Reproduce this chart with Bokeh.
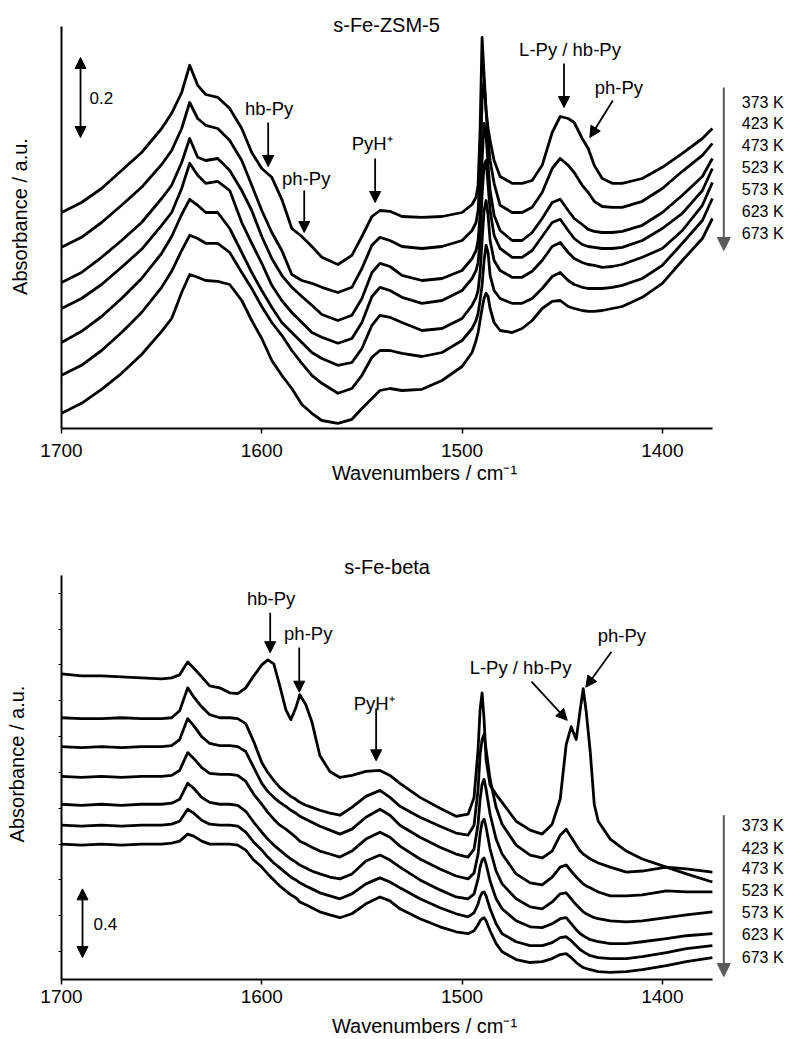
from bokeh.plotting import figure
from bokeh.layouts import column
from bokeh.models import Range1d, FixedTicker, Label, Arrow, NormalHead
from bokeh.embed import file_html
from bokeh.resources import INLINE

TEMPS = ["373 K", "423 K", "473 K", "523 K", "573 K", "623 K", "673 K"]
X_TICKS = [1700, 1600, 1500, 1400]

# ---------------- s-Fe-ZSM-5 (absorbance, offset spectra) ----------------
WN_ZSM5 = [1700, 1690, 1680, 1670, 1660, 1650, 1645, 1640, 1636, 1632, 1628, 1622, 1616, 1610,
           1605, 1600, 1595, 1590, 1585, 1580, 1575, 1570, 1562, 1555, 1550, 1545, 1541, 1536,
           1530, 1520, 1510, 1500, 1495, 1493, 1492, 1491, 1490, 1489, 1488, 1487, 1486, 1484,
           1481, 1475, 1470, 1465, 1460, 1455, 1451, 1447, 1444, 1440, 1437, 1434, 1430, 1425,
           1420, 1410, 1400, 1390, 1380, 1375]
ZSM5_373 = [0.540, 0.565, 0.600, 0.645, 0.690, 0.750, 0.788, 0.840, 0.908, 0.858, 0.835, 0.828, 0.800, 0.750,
            0.690, 0.650, 0.628, 0.573, 0.500, 0.480, 0.455, 0.428, 0.410, 0.433, 0.480, 0.530, 0.545, 0.543,
            0.530, 0.528, 0.530, 0.540, 0.560, 0.578, 0.608, 0.745, 0.978, 0.883, 0.795, 0.750, 0.720, 0.670,
            0.630, 0.613, 0.613, 0.620, 0.658, 0.740, 0.780, 0.775, 0.765, 0.725, 0.700, 0.658, 0.625, 0.613,
            0.613, 0.625, 0.653, 0.688, 0.725, 0.750]
ZSM5_423 = [0.453, 0.478, 0.515, 0.558, 0.603, 0.660, 0.695, 0.750, 0.815, 0.775, 0.758, 0.750, 0.720, 0.670,
            0.608, 0.545, 0.490, 0.445, 0.385, 0.370, 0.363, 0.353, 0.340, 0.353, 0.400, 0.458, 0.478, 0.470,
            0.455, 0.450, 0.455, 0.470, 0.495, 0.515, 0.545, 0.633, 0.820, 0.870, 0.795, 0.720, 0.670, 0.613,
            0.558, 0.540, 0.540, 0.553, 0.590, 0.650, 0.675, 0.658, 0.640, 0.608, 0.590, 0.568, 0.555, 0.553,
            0.553, 0.568, 0.600, 0.643, 0.683, 0.713]
ZSM5_473 = [0.365, 0.390, 0.428, 0.470, 0.515, 0.575, 0.608, 0.665, 0.725, 0.678, 0.670, 0.675, 0.645, 0.595,
            0.545, 0.480, 0.425, 0.383, 0.353, 0.330, 0.308, 0.285, 0.270, 0.283, 0.325, 0.390, 0.413, 0.405,
            0.383, 0.370, 0.375, 0.395, 0.425, 0.445, 0.470, 0.533, 0.670, 0.763, 0.733, 0.658, 0.595, 0.533,
            0.495, 0.470, 0.470, 0.490, 0.525, 0.565, 0.573, 0.545, 0.525, 0.510, 0.498, 0.493, 0.490, 0.490,
            0.493, 0.508, 0.540, 0.583, 0.630, 0.675]
ZSM5_523 = [0.300, 0.325, 0.360, 0.403, 0.448, 0.508, 0.540, 0.600, 0.663, 0.633, 0.613, 0.618, 0.595, 0.515,
            0.463, 0.413, 0.358, 0.320, 0.290, 0.265, 0.240, 0.228, 0.213, 0.225, 0.265, 0.330, 0.353, 0.345,
            0.328, 0.313, 0.320, 0.345, 0.375, 0.395, 0.415, 0.470, 0.583, 0.658, 0.670, 0.608, 0.545, 0.483,
            0.450, 0.428, 0.428, 0.445, 0.480, 0.515, 0.523, 0.495, 0.475, 0.460, 0.455, 0.453, 0.450, 0.450,
            0.453, 0.470, 0.500, 0.538, 0.595, 0.650]
ZSM5_573 = [0.215, 0.243, 0.280, 0.325, 0.375, 0.438, 0.480, 0.535, 0.573, 0.558, 0.540, 0.540, 0.500, 0.440,
            0.390, 0.345, 0.303, 0.265, 0.240, 0.215, 0.190, 0.175, 0.158, 0.165, 0.200, 0.258, 0.283, 0.278,
            0.265, 0.245, 0.250, 0.275, 0.308, 0.328, 0.345, 0.390, 0.470, 0.545, 0.570, 0.533, 0.470, 0.420,
            0.395, 0.378, 0.378, 0.393, 0.420, 0.455, 0.465, 0.440, 0.425, 0.415, 0.410, 0.408, 0.403, 0.405,
            0.410, 0.428, 0.450, 0.495, 0.558, 0.615]
ZSM5_623 = [0.133, 0.158, 0.195, 0.240, 0.290, 0.353, 0.393, 0.445, 0.483, 0.475, 0.463, 0.463, 0.440, 0.390,
            0.350, 0.305, 0.265, 0.233, 0.195, 0.163, 0.133, 0.113, 0.088, 0.100, 0.133, 0.178, 0.195, 0.195,
            0.188, 0.180, 0.190, 0.220, 0.250, 0.270, 0.288, 0.320, 0.358, 0.420, 0.458, 0.440, 0.383, 0.345,
            0.325, 0.313, 0.313, 0.325, 0.350, 0.380, 0.390, 0.370, 0.360, 0.353, 0.350, 0.350, 0.350, 0.353,
            0.358, 0.375, 0.408, 0.463, 0.520, 0.575]
ZSM5_673 = [0.038, 0.063, 0.098, 0.138, 0.185, 0.243, 0.275, 0.340, 0.385, 0.378, 0.370, 0.368, 0.360, 0.320,
            0.270, 0.225, 0.170, 0.133, 0.100, 0.060, 0.038, 0.020, 0.013, 0.023, 0.050, 0.075, 0.095, 0.100,
            0.095, 0.098, 0.120, 0.155, 0.190, 0.220, 0.240, 0.270, 0.300, 0.325, 0.338, 0.330, 0.300, 0.265,
            0.245, 0.240, 0.250, 0.270, 0.300, 0.318, 0.320, 0.305, 0.300, 0.295, 0.293, 0.293, 0.295, 0.300,
            0.305, 0.328, 0.363, 0.420, 0.475, 0.525]

# ---------------- s-Fe-beta (absorbance, offset spectra) ----------------
WN_BETA = [1700, 1690, 1680, 1670, 1660, 1650, 1645, 1641, 1637, 1634, 1630, 1626, 1621, 1616, 1612,
           1608, 1604, 1600, 1597, 1594, 1591, 1588, 1585.5, 1583, 1581, 1578, 1575, 1571, 1566, 1561,
           1555, 1548, 1541, 1536, 1531, 1521, 1511, 1503, 1497, 1494, 1492, 1491, 1490, 1489, 1488,
           1486, 1483, 1480, 1473, 1466, 1460, 1455, 1451, 1448, 1445.5, 1443, 1441, 1439.5, 1438, 1436,
           1434, 1432, 1426, 1418, 1410, 1398, 1388, 1375]
BETA_373 = [1.781, 1.769, 1.769, 1.763, 1.757, 1.752, 1.757, 1.775, 1.850, 1.815, 1.763, 1.711, 1.699, 1.670, 1.665,
            1.699, 1.769, 1.833, 1.862, 1.839, 1.711, 1.572, 1.514, 1.583, 1.659, 1.601, 1.502, 1.305, 1.212, 1.177,
            1.189, 1.212, 1.218, 1.189, 1.143, 1.061, 0.998, 0.951, 0.963, 1.061, 1.340, 1.572, 1.670, 1.514, 1.282,
            1.131, 1.079, 1.032, 0.922, 0.870, 0.847, 0.905, 1.050, 1.369, 1.473, 1.398, 1.572, 1.694, 1.560, 1.328,
            1.021, 0.922, 0.818, 0.748, 0.702, 0.655, 0.615, 0.568]
BETA_423 = [1.525, 1.520, 1.520, 1.525, 1.520, 1.520, 1.525, 1.566, 1.699, 1.647, 1.589, 1.543, 1.525, 1.525, 1.520,
            1.491, 1.386, 1.264, 1.206, 1.160, 1.119, 1.090, 1.067, 1.050, 1.032, 1.015, 1.003, 0.986, 0.969, 0.957,
            1.003, 1.067, 1.102, 1.061, 1.009, 0.945, 0.893, 0.853, 0.841, 0.899, 1.108, 1.311, 1.398, 1.427, 1.340,
            1.166, 1.003, 0.905, 0.783, 0.725, 0.708, 0.748, 0.841, 0.876, 0.829, 0.783, 0.748, 0.731, 0.719, 0.702,
            0.690, 0.679, 0.655, 0.626, 0.632, 0.655, 0.644, 0.626]
BETA_473 = [1.357, 1.351, 1.357, 1.351, 1.357, 1.357, 1.363, 1.398, 1.520, 1.479, 1.415, 1.375, 1.363, 1.363, 1.357,
            1.328, 1.235, 1.143, 1.096, 1.061, 1.032, 1.009, 0.986, 0.969, 0.951, 0.934, 0.916, 0.893, 0.870, 0.847,
            0.876, 0.945, 0.992, 0.957, 0.899, 0.829, 0.771, 0.731, 0.713, 0.760, 0.905, 1.050, 1.137, 1.166, 1.108,
            0.963, 0.818, 0.731, 0.615, 0.563, 0.551, 0.597, 0.655, 0.667, 0.632, 0.597, 0.574, 0.557, 0.545, 0.534,
            0.522, 0.510, 0.487, 0.487, 0.493, 0.516, 0.510, 0.510]
BETA_523 = [1.183, 1.177, 1.183, 1.177, 1.183, 1.183, 1.189, 1.218, 1.322, 1.288, 1.235, 1.201, 1.195, 1.195, 1.189,
            1.154, 1.079, 1.021, 0.974, 0.934, 0.899, 0.876, 0.853, 0.829, 0.806, 0.789, 0.771, 0.748, 0.731, 0.713,
            0.748, 0.818, 0.858, 0.829, 0.777, 0.702, 0.644, 0.603, 0.586, 0.621, 0.731, 0.847, 0.916, 0.934, 0.887,
            0.760, 0.632, 0.557, 0.470, 0.423, 0.412, 0.452, 0.499, 0.505, 0.470, 0.435, 0.412, 0.394, 0.383, 0.371,
            0.360, 0.354, 0.342, 0.336, 0.342, 0.360, 0.377, 0.394]
BETA_573 = [1.021, 1.015, 1.021, 1.015, 1.021, 1.021, 1.027, 1.050, 1.143, 1.114, 1.061, 1.032, 1.021, 1.021, 1.015,
            0.980, 0.916, 0.858, 0.818, 0.783, 0.754, 0.725, 0.702, 0.684, 0.667, 0.650, 0.632, 0.615, 0.597, 0.586,
            0.615, 0.690, 0.725, 0.696, 0.655, 0.580, 0.522, 0.481, 0.470, 0.499, 0.586, 0.655, 0.696, 0.708, 0.673,
            0.574, 0.470, 0.412, 0.342, 0.307, 0.302, 0.325, 0.354, 0.360, 0.325, 0.290, 0.267, 0.255, 0.244, 0.232,
            0.226, 0.220, 0.209, 0.209, 0.220, 0.238, 0.255, 0.267]
BETA_623 = [0.899, 0.893, 0.899, 0.893, 0.899, 0.899, 0.905, 0.922, 0.992, 0.969, 0.928, 0.905, 0.899, 0.899, 0.893,
            0.858, 0.800, 0.754, 0.713, 0.679, 0.650, 0.621, 0.597, 0.580, 0.563, 0.545, 0.528, 0.505, 0.487, 0.470,
            0.499, 0.557, 0.592, 0.568, 0.534, 0.470, 0.418, 0.383, 0.365, 0.389, 0.441, 0.481, 0.505, 0.510, 0.487,
            0.412, 0.325, 0.267, 0.220, 0.197, 0.197, 0.215, 0.244, 0.249, 0.226, 0.197, 0.174, 0.162, 0.151, 0.139,
            0.133, 0.128, 0.122, 0.122, 0.133, 0.157, 0.180, 0.197]
BETA_673 = [0.789, 0.783, 0.789, 0.783, 0.789, 0.789, 0.795, 0.806, 0.847, 0.835, 0.806, 0.789, 0.789, 0.789, 0.783,
            0.754, 0.696, 0.655, 0.615, 0.580, 0.545, 0.516, 0.493, 0.476, 0.452, 0.435, 0.418, 0.394, 0.377, 0.360,
            0.383, 0.441, 0.481, 0.458, 0.412, 0.354, 0.307, 0.278, 0.267, 0.284, 0.319, 0.342, 0.354, 0.360, 0.342,
            0.284, 0.209, 0.162, 0.116, 0.099, 0.104, 0.122, 0.145, 0.151, 0.128, 0.099, 0.081, 0.070, 0.064, 0.058,
            0.052, 0.046, 0.041, 0.046, 0.058, 0.081, 0.104, 0.128]

ZSM5_SERIES = [ZSM5_373, ZSM5_423, ZSM5_473, ZSM5_523, ZSM5_573, ZSM5_623, ZSM5_673]
BETA_SERIES = [BETA_373, BETA_423, BETA_473, BETA_523, BETA_573, BETA_623, BETA_673]

FONT = "Liberation Sans"
X_END = 1337.5   # right edge of the drawing area (room for the temperature legend)


def make_panel(height, ymax, yaxis_top, top, bottom, minor_ticks, tick_standoff, label_standoff):
    p = figure(width=787, height=height, x_range=Range1d(1700, X_END), y_range=Range1d(0, ymax),
               min_border_left=61, min_border_right=0, min_border_top=top, min_border_bottom=bottom,
               toolbar_location=None, output_backend="svg")
    p.outline_line_color = None
    p.background_fill_color = "white"
    p.border_fill_color = "white"
    p.grid.visible = False
    # x axis
    xa = p.xaxis[0]
    xa.bounds = (1375, 1700)
    xa.ticker = FixedTicker(ticks=X_TICKS)
    xa.axis_label = "Wavenumbers / cm\u207b\u00b9"
    xa.axis_label_text_font = FONT
    xa.axis_label_text_font_style = "normal"
    xa.axis_label_text_font_size = "20px"
    xa.axis_label_text_color = "black"
    xa.axis_label_standoff = label_standoff
    xa.major_label_text_font = FONT
    xa.major_label_text_font_size = "19px"
    xa.major_label_text_color = "black"
    xa.major_label_standoff = tick_standoff
    xa.major_tick_out = 5
    xa.major_tick_in = 0
    xa.major_tick_line_width = 1.5
    xa.minor_tick_line_color = None
    xa.axis_line_width = 2
    xa.axis_line_color = "black"
    # y axis (no labelled ticks, only small unlabelled marks)
    ya = p.yaxis[0]
    ya.bounds = (0, yaxis_top)
    ya.ticker = FixedTicker(ticks=[], minor_ticks=minor_ticks)
    ya.major_tick_out = 0
    ya.major_tick_in = 0
    ya.minor_tick_out = 3
    ya.minor_tick_in = 0
    ya.minor_tick_line_width = 1
    ya.minor_tick_line_color = "black"
    ya.axis_line_width = 2
    ya.axis_line_color = "black"
    ya.axis_label = "Absorbance / a.u."
    ya.axis_label_text_font = FONT
    ya.axis_label_text_font_style = "normal"
    ya.axis_label_text_font_size = "20px"
    ya.axis_label_text_color = "black"
    ya.axis_label_standoff = 31
    return p


def text(p, x, y, s, size="18.5px", align="center"):
    p.add_layout(Label(x=x, y=y, text=s, text_font=FONT, text_font_size=size, text_color="black",
                       text_align=align, text_baseline="middle"))


def arrow(p, x0, y0, x1, y1, color="black", width=1.8, size=11, both=False):
    head = dict(size=size, fill_color=color, line_color=color, line_width=1)
    p.add_layout(Arrow(end=NormalHead(**head), start=NormalHead(**head) if both else None,
                       x_start=x0, y_start=y0, x_end=x1, y_end=y1,
                       line_color=color, line_width=width))


# ---------------- top panel ----------------
p1 = make_panel(500, 1.06, 1.005, 4, 72, [], 10, 2)
for vals in ZSM5_SERIES:
    p1.line(WN_ZSM5, vals, line_color="black", line_width=2.8, line_join="round")

text(p1, 1537.7, 1.010, "s-Fe-ZSM-5", size="20px")
arrow(p1, 1690.5, 0.7275, 1690.5, 0.9275, both=True)
text(p1, 1686.0, 0.8275, "0.2", size="17px", align="left")
text(p1, 1596.3, 0.800, "hb-Py")
arrow(p1, 1596.8, 0.765, 1596.8, 0.655)
text(p1, 1577.8, 0.625, "ph-Py")
arrow(p1, 1578.8, 0.595, 1578.8, 0.490)
text(p1, 1544.9, 0.7125, "PyH\u207a")
arrow(p1, 1543.4, 0.675, 1543.4, 0.565)
text(p1, 1446.1, 0.9475, "L-Py / hb-Py")
arrow(p1, 1449.1, 0.9125, 1449.1, 0.8025)
text(p1, 1421.7, 0.8525, "ph-Py")
arrow(p1, 1424.7, 0.820, 1436.2, 0.7275)
arrow(p1, 1369.3, 0.8525, 1369.3, 0.445, color="#5a5a5a", width=2, size=13)
for t, yv in zip(TEMPS, [0.815, 0.7625, 0.7075, 0.6525, 0.5975, 0.5425, 0.4875]):
    text(p1, 1360.35, yv, t, size="16px", align="left")

# ---------------- bottom panel ----------------
BETA_YMARKS = [0.162, 0.371, 0.580, 0.789, 0.998, 1.206, 1.415, 1.624, 1.833, 2.042, 2.250]
p2 = make_panel(539, 2.511, 2.355, 48, 58, BETA_YMARKS, 5, 9)
for vals in BETA_SERIES:
    p2.line(WN_BETA, vals, line_color="black", line_width=2.8, line_join="round")

text(p2, 1537.4, 2.401, "s-Fe-beta", size="20px")
arrow(p2, 1689.5, 0.128, 1689.5, 0.528, both=True)
text(p2, 1684.0, 0.325, "0.4", size="17px", align="left")
text(p2, 1595.3, 2.219, "hb-Py")
arrow(p2, 1595.8, 2.137, 1595.8, 1.904)
text(p2, 1576.8, 2.015, "ph-Py")
arrow(p2, 1581.3, 1.934, 1581.3, 1.674)
text(p2, 1543.9, 1.609, "PyH\u207a")
arrow(p2, 1542.9, 1.579, 1542.9, 1.274)
text(p2, 1470.8, 1.815, "L-Py / hb-Py")
arrow(p2, 1465.3, 1.736, 1447.5, 1.510)
text(p2, 1420.2, 2.007, "ph-Py")
arrow(p2, 1425.4, 1.910, 1438.2, 1.703)
arrow(p2, 1369.3, 0.957, 1369.3, 0.017, color="#5a5a5a", width=2, size=13)
for t, yv in zip(TEMPS, [0.899, 0.766, 0.644, 0.516, 0.389, 0.261, 0.128]):
    text(p2, 1360.35, yv, t, size="16px", align="left")

layout = column(p1, p2)
open("out.html", "w").write(file_html(layout, INLINE))
